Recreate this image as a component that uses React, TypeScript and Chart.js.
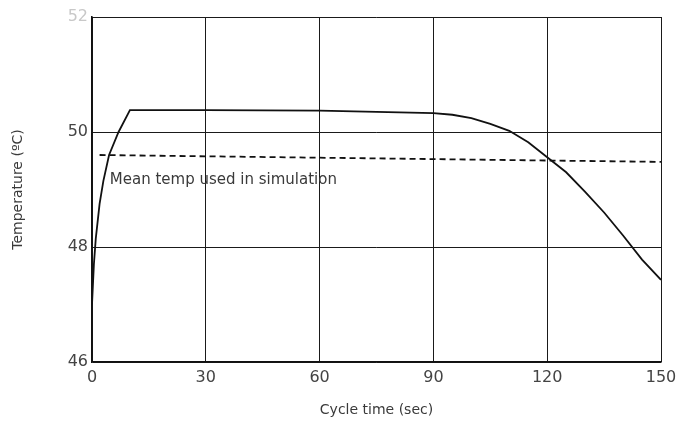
import React, { useEffect, useRef } from "react";
import { Chart, registerables } from "chart.js";

Chart.register(...registerables);

// Cycle temperature profile (sec, °C)
const cycleTimes = [0, 0.5, 1, 2, 3, 4.5, 7, 10, 30, 60, 90, 95, 100, 105, 110, 115, 120, 125, 130, 135, 140, 145, 150];
const temperatures = [47.0, 47.7, 48.15, 48.75, 49.15, 49.6, 50.0, 50.38, 50.38, 50.37, 50.33, 50.3, 50.24, 50.14, 50.02, 49.82, 49.56, 49.3, 48.96, 48.6, 48.2, 47.78, 47.43];

// Mean temperature used in the simulation
const meanTimes = [2, 150];
const meanTemps = [49.6, 49.48];

const xTicks = [0, 30, 60, 90, 120, 150];
const yTicks = [46, 48, 50, 52];

const FONT = "'DejaVu Sans', sans-serif";

const labelsPlugin = {
  id: "labels",
  afterDraw(chart: any) {
    const { ctx, chartArea, scales } = chart;
    ctx.save();
    ctx.fillStyle = "#3a3a3a";
    ctx.font = `14px ${FONT}`;
    ctx.textAlign = "center";
    ctx.textBaseline = "middle";
    ctx.fillText("Cycle time (sec)", (chartArea.left + chartArea.right) / 2, 410);
    ctx.save();
    ctx.translate(18, (chartArea.top + chartArea.bottom) / 2);
    ctx.rotate(-Math.PI / 2);
    ctx.fillText("Temperature (ºC)", 0, 0);
    ctx.restore();
    ctx.textAlign = "left";
    ctx.font = `15px ${FONT}`;
    ctx.fillText("Mean temp used in simulation", scales.x.getPixelForValue(4.7), scales.y.getPixelForValue(49.17));
    ctx.restore();
  },
};

export default function App() {
  const ref = useRef<HTMLCanvasElement>(null);
  useEffect(() => {
    if (!ref.current) return;
    const chart = new Chart(ref.current, {
      type: "scatter",
      data: {
        datasets: [
          {
            label: "Temperature",
            data: cycleTimes.map((t, i) => ({ x: t, y: temperatures[i] })),
            showLine: true,
            borderColor: "#111",
            borderWidth: 1.8,
            pointRadius: 0,
            tension: 0,
          },
          {
            label: "Mean temp",
            data: meanTimes.map((t, i) => ({ x: t, y: meanTemps[i] })),
            showLine: true,
            borderColor: "#111",
            borderWidth: 1.8,
            borderDash: [6, 4],
            pointRadius: 0,
          },
        ],
      },
      options: {
        animation: false,
        responsive: false,
        layout: { padding: { top: 17, right: 15, left: 0, bottom: 0 } },
        plugins: { legend: { display: false }, tooltip: { enabled: false } },
        scales: {
          x: {
            type: "linear",
            min: 0,
            max: 150,
            afterBuildTicks: (s: any) => { s.ticks = xTicks.map((v) => ({ value: v })); },
            afterFit: (s: any) => { s.height = 60; s.paddingRight = 0; s.paddingLeft = 0; },
            grid: { color: "#1a1a1a", lineWidth: 1, drawTicks: false },
            border: { color: "#111", width: 1.6 },
            ticks: { color: "#444", padding: 6, font: { family: FONT, size: 16 } },
          },
          y: {
            min: 46,
            max: 52,
            afterBuildTicks: (s: any) => { s.ticks = yTicks.map((v) => ({ value: v })); },
            afterFit: (s: any) => { s.width = 92; s.paddingTop = 0; s.paddingBottom = 0; },
            grid: { color: "#1a1a1a", lineWidth: 1, drawTicks: false },
            border: { color: "#111", width: 1.6 },
            ticks: {
              color: (c: any) => (c.tick && c.tick.value === 52 ? "#c8c8c8" : "#444"),
              padding: 4,
              font: { family: FONT, size: 16 },
            },
          },
        },
      },
      plugins: [labelsPlugin],
    });
    return () => chart.destroy();
  }, []);
  return (
    <div style={{ position: "fixed", left: 0, top: 0, width: 676, height: 422, background: "#fff" }}>
      <canvas ref={ref} width={676} height={422} style={{ width: 676, height: 422 }} />
    </div>
  );
}
